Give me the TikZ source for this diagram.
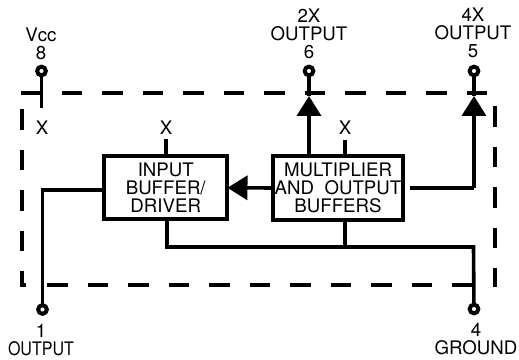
\documentclass[tikz,border=0pt]{standalone}
\usepackage{fontspec}
\setmainfont{TeX Gyre Heros}
\usetikzlibrary{positioning,arrows.meta}
\tikzset{
        wire/.style={line width=2.7pt}, % plain connections
        border/.style={line width=3pt, dash pattern=on 15.4pt off 15pt}, % the package outline
        block/.style={draw, line width=3pt, inner sep=0pt, outer sep=0pt, minimum height=47.6pt, align=center},
        pin/.style={circle, draw, line width=3pt, fill=white, inner sep=0pt, outer sep=0pt, minimum size=6.5pt},
        label/.style={align=center, inner sep=0pt, font=\fontsize{14}{13.5}\selectfont},
        tip/.style={-{Triangle[length=15pt,width=18pt]}},
}
\begin{document}
\begin{tikzpicture}[x=0.75pt,y=-0.75pt]
\useasboundingbox (0,0) rectangle (519,360);
% package outline
\draw[border] (21,93) -- (487,93);
\draw[border] (495,106) -- (495,287);
\draw[border] (21.5,109) -- (21.5,285.5) -- (26,285.5);
\draw[border] (47,285.5) -- (472,285.5);
% blocks
\node[block, label, minimum width=92.6pt] (input) at (165.75,187.75) {INPUT\\BUFFER/\\DRIVER};
\node[block, label, minimum width=97.5pt] (mult) at (338,188) {MULTIPLIER\\AND\ \ OUTPUT\\BUFFERS};
% pins
\node[pin] (vcc) at (41.5,71) {};
\node[pin] (outsix) at (309,71) {};
\node[pin] (outfive) at (474,71) {};
\node[pin] (outone) at (42.5,309.5) {};
\node[pin] (ground) at (474,309) {};
% texts
\node[label] (vcctext) at (41,44) {Vcc\\8};
\node[label] (sixtext) at (309,34) {2X\\OUTPUT\\6};
\node[label] (fivetext) at (473,33) {4X\\OUTPUT\\5};
\node[label] (onetext) at (41,340) {1\\\scalebox{.86}[1]{OUTPUT}};
\node[label] (groundtext) at (476,339) {4\\GROUND};
\node[label] (xvcc) at (42,128) {X};
\node[label] (xinput) at (166,128) {X};
\node[label] (xmult) at (345,128) {X};
% diodes
\coordinate (diodesix) at (309,96);
\coordinate (diodefive) at (474,96);
\draw[wire] (outsix) -- (diodesix);
\draw[wire] (outfive) -- (diodefive);
\draw[wire,tip] (outsix |- mult.north) -- (diodesix);
\draw[wire,tip] (474,188) -- (diodefive);
\draw[wire,shorten <=5pt] (mult.east |- 0,188) -- (474,188);
% connections
\coordinate (vccend) at (41.5,108);
\coordinate (busleft) at (167,247);
\coordinate (busright) at (473.5,247);
\draw[wire] (vcc) -- (vccend);
\draw[wire] (xinput |- 0,139) -- (xinput |- input.north);
\draw[wire] (xmult |- 0,140) -- (xmult |- mult.north);
\draw[wire,tip] (mult.west) -- (input.east);
\draw[wire] (input.west |- 0,190) -| (outone);
\draw[wire] (busleft |- input.south) -- (busleft) -- (busright) -- (ground);
\draw[wire] (xmult |- mult.south) -- (xmult |- busleft);
\end{tikzpicture}
\end{document}
